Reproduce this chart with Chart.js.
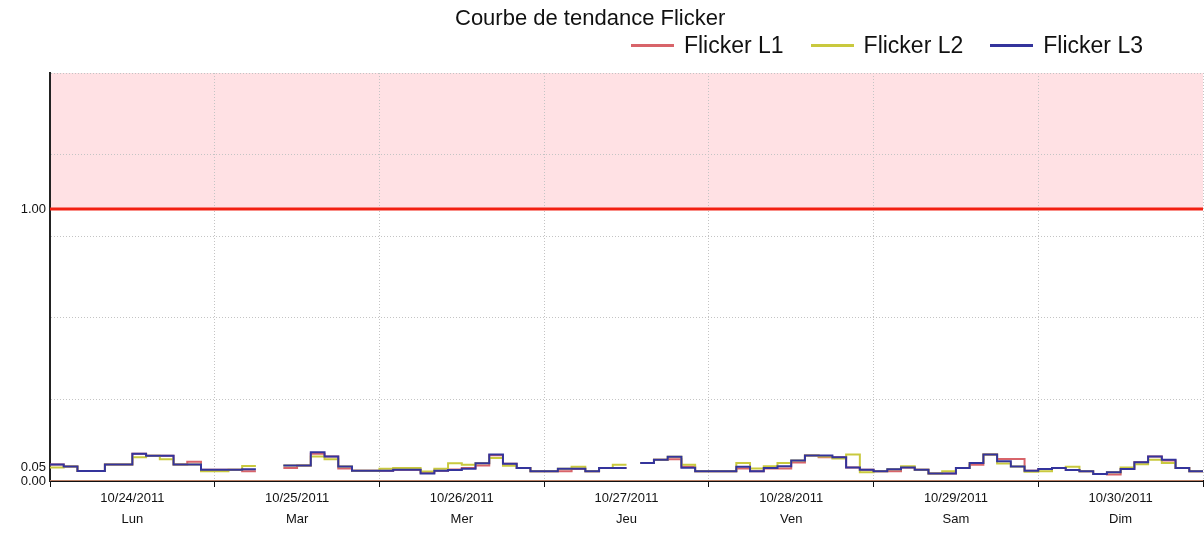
<!DOCTYPE html>
<html lang="fr">
<head>
  <meta charset="UTF-8">
  <title>Courbe de tendance Flicker</title>
  <script src="https://cdn.jsdelivr.net/npm/chart.js"></script>
  <style>
    body {
      margin: 0;
      background: #fff;
      font-family: 'Liberation Sans', Arial, sans-serif;
    }
    .cadre {
      position: relative;
      width: 1204px;
      height: 533px;
    }
    canvas {
      position: absolute;
      left: 0;
      top: 0;
    }
    .titre {
      position: absolute;
      left: 455px;
      top: 5px;
      font-size: 22px;
      color: #111;
      white-space: nowrap;
    }
    .legende {
      position: absolute;
      right: 61px;
      top: 32px;
      display: flex;
      font-size: 23px;
      color: #111;
      white-space: nowrap;
    }
    .legende span {
      display: flex;
      align-items: center;
      margin-left: 27px;
    }
    .legende i {
      display: inline-block;
      width: 43px;
      height: 3px;
      margin-right: 10px;
    }
  </style>
</head>
<body>
  <div class="cadre">
    <canvas id="graphFlicker" width="1204" height="533"></canvas>
    <div class="titre">Courbe de tendance Flicker</div>
    <div class="legende" id="legende"></div>
  </div>

  <script>
    // axe des temps : une valeur toutes les 2 heures, 7 jours
    const dates = ['10/24/2011', '10/25/2011', '10/26/2011', '10/27/2011', '10/28/2011', '10/29/2011', '10/30/2011'];
    const jours = ['Lun', 'Mar', 'Mer', 'Jeu', 'Ven', 'Sam', 'Dim'];
    const pasHeures = 2;
    const heuresTotal = 168;

    // graduations Y
    const ticksY = [0, 0.05, 0.3, 0.6, 0.9, 1.0, 1.2, 1.5];
    const etiquettesY = [0, 0.05, 1.0];
    const grilleY = [0.3, 0.6, 0.9, 1.2, 1.5];
    const limite = 1.0;

    const flickerL1 = [
      0.061, 0.053, 0.037, 0.037, 0.061, 0.061, 0.100, 0.093, 0.093, 0.061, 0.071, 0.041,
      0.041, 0.041, 0.036, null, null, 0.048, 0.057, 0.100, 0.090, 0.046, 0.038, 0.038,
      0.038, 0.041, 0.041, 0.030, 0.038, 0.042, 0.048, 0.057, 0.095, 0.063, 0.048, 0.036,
      0.036, 0.036, 0.045, 0.036, 0.048, 0.048, null, 0.066, 0.078, 0.080, 0.052, 0.036,
      0.036, 0.036, 0.046, 0.036, 0.046, 0.046, 0.068, 0.094, 0.087, 0.087, 0.050, 0.041,
      0.036, 0.036, 0.050, 0.041, 0.028, 0.028, 0.048, 0.060, 0.097, 0.081, 0.081, 0.038,
      0.044, 0.048, 0.040, 0.036, 0.026, 0.024, 0.044, 0.069, 0.090, 0.075, 0.048, 0.036
    ];
    const flickerL2 = [
      0.050, 0.053, 0.037, 0.037, 0.061, 0.061, 0.087, 0.093, 0.080, 0.061, 0.061, 0.036,
      0.036, 0.041, 0.055, null, null, 0.057, 0.057, 0.090, 0.080, 0.053, 0.038, 0.038,
      0.045, 0.048, 0.048, 0.035, 0.045, 0.065, 0.060, 0.065, 0.085, 0.056, 0.048, 0.036,
      0.036, 0.045, 0.052, 0.036, 0.048, 0.060, null, 0.066, 0.078, 0.089, 0.060, 0.036,
      0.036, 0.036, 0.066, 0.046, 0.054, 0.066, 0.075, 0.094, 0.090, 0.083, 0.097, 0.032,
      0.036, 0.043, 0.054, 0.041, 0.028, 0.036, 0.048, 0.066, 0.097, 0.064, 0.053, 0.034,
      0.036, 0.048, 0.052, 0.036, 0.026, 0.032, 0.050, 0.062, 0.078, 0.066, 0.048, 0.036
    ];
    const flickerL3 = [
      0.061, 0.053, 0.037, 0.037, 0.061, 0.061, 0.100, 0.093, 0.093, 0.061, 0.061, 0.041,
      0.041, 0.041, 0.043, null, null, 0.057, 0.057, 0.106, 0.090, 0.053, 0.038, 0.038,
      0.038, 0.041, 0.041, 0.028, 0.038, 0.040, 0.045, 0.065, 0.097, 0.063, 0.048, 0.036,
      0.036, 0.045, 0.045, 0.036, 0.048, 0.048, null, 0.066, 0.078, 0.089, 0.049, 0.036,
      0.036, 0.036, 0.052, 0.036, 0.048, 0.054, 0.075, 0.094, 0.094, 0.087, 0.050, 0.041,
      0.036, 0.043, 0.050, 0.041, 0.028, 0.028, 0.048, 0.066, 0.097, 0.073, 0.053, 0.038,
      0.044, 0.048, 0.040, 0.036, 0.026, 0.032, 0.044, 0.069, 0.090, 0.078, 0.048, 0.036
    ];

    const series = [
      { label: 'Flicker L1', data: flickerL1, color: '#d8646a', order: 3 },
      { label: 'Flicker L2', data: flickerL2, color: '#c9c93e', order: 2 },
      { label: 'Flicker L3', data: flickerL3, color: '#34349c', order: 1 }
    ];

    // chaque valeur vaut pour un créneau de 2h ; on ajoute un point de fin avant chaque trou
    function construirePoints(valeurs) {
      const pts = [];
      valeurs.forEach((v, i) => {
        const x = i * pasHeures;
        pts.push({ x: x, y: v });
        const suivant = valeurs[i + 1];
        if (v !== null && (suivant === undefined || suivant === null)) {
          pts.push({ x: x + pasHeures, y: v });
        }
      });
      return pts;
    }

    const datasets = series.map(s => ({
      label: s.label,
      data: construirePoints(s.data),
      borderColor: s.color,
      borderWidth: 2,
      pointRadius: 0,
      stepped: true,
      spanGaps: false,
      fill: false,
      order: s.order
    }));

    // seuil à 1.00 avec zone rose au-dessus
    datasets.push({
      label: 'limite',
      data: [{ x: 0, y: limite }, { x: heuresTotal, y: limite }],
      borderColor: 'rgb(242, 32, 18)',
      borderWidth: 3,
      pointRadius: 0,
      fill: 'end',
      backgroundColor: 'rgb(255, 225, 228)',
      order: 10
    });
    // ligne du zéro
    datasets.push({
      label: 'zero',
      data: [{ x: 0, y: 0 }, { x: heuresTotal, y: 0 }],
      borderColor: '#f2a482',
      borderWidth: 1.5,
      pointRadius: 0,
      fill: false,
      order: 9
    });

    // légende en haut à droite
    const legende = document.getElementById('legende');
    series.forEach(s => {
      const item = document.createElement('span');
      item.innerHTML = '<i style="background:' + s.color + '"></i>' + s.label;
      legende.appendChild(item);
    });

    const policeTicks = { family: "'Liberation Sans', Arial, sans-serif", size: 13, lineHeight: 1.6 };

    new Chart(document.getElementById('graphFlicker'), {
      type: 'line',
      data: { datasets: datasets },
      options: {
        responsive: false,
        animation: false,
        devicePixelRatio: 1,
        layout: { padding: { top: 73, right: 0, left: 0, bottom: 0 } },
        plugins: {
          legend: { display: false },
          title: { display: false },
          tooltip: { enabled: false },
          filler: { drawTime: 'beforeDraw' }
        },
        scales: {
          x: {
            type: 'linear',
            min: 0,
            max: heuresTotal,
            afterBuildTicks: scale => {
              const t = [];
              for (let h = 0; h <= heuresTotal; h += 12) t.push({ value: h });
              scale.ticks = t;
            },
            afterFit: scale => { scale.height = 52; },
            ticks: {
              autoSkip: false,
              maxRotation: 0,
              color: '#111',
              font: policeTicks,
              padding: 1,
              callback: v => {
                if (v % 24 === 12) {
                  const j = (v - 12) / 24;
                  return [dates[j], jours[j]];
                }
                return '';
              }
            },
            grid: {
              color: ctx => (ctx.tick && ctx.tick.value % 24 === 0 && ctx.tick.value > 0) ? '#c4c4c4' : 'transparent',
              tickColor: ctx => (ctx.tick && ctx.tick.value % 24 === 0) ? '#111' : 'transparent',
              tickLength: 6,
              tickBorderDash: []
            },
            border: { color: '#111', width: 2, dash: [1, 2] }
          },
          y: {
            min: 0,
            max: 1.5,
            afterBuildTicks: scale => {
              scale.ticks = ticksY.map(v => ({ value: v }));
            },
            afterFit: scale => { scale.width = 50; },
            ticks: {
              color: '#111',
              font: { family: "'Liberation Sans', Arial, sans-serif", size: 13 },
              padding: 4,
              callback: v => etiquettesY.some(e => Math.abs(e - v) < 1e-9) ? v.toFixed(2) : ''
            },
            grid: {
              color: ctx => (ctx.tick && grilleY.some(g => Math.abs(g - ctx.tick.value) < 1e-9)) ? '#c4c4c4' : 'transparent',
              drawTicks: false
            },
            border: { color: '#222', width: 2, dash: [1, 2] }
          }
        }
      }
    });
  </script>
</body>
</html>
